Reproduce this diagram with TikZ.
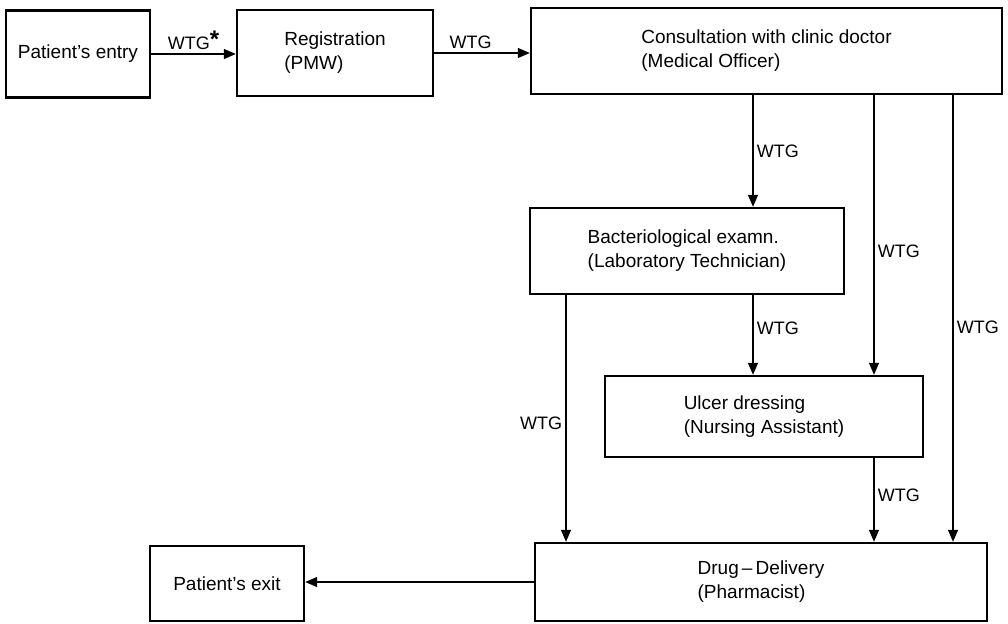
\documentclass[tikz,border=0pt]{standalone}
\usepackage{fontspec}
\setmainfont{Liberation Sans}
\usetikzlibrary{positioning}
\usetikzlibrary{arrows.meta}

\begin{document}
\begin{tikzpicture}[x=1pt,y=-1pt
                   ,font=\fontsize{18}{23}\selectfont
                   ,stage/.style={draw,line width=2.4pt,align=left,inner sep=0pt
                                 ,font=\fontsize{19}{24}\selectfont}
                   ,flow/.style={line width=1.3pt,-{Triangle[length=12pt,width=10pt]}}]
  \useasboundingbox (0,0) rectangle (1008,623);
  \node[stage,minimum width=144pt,minimum height=87pt] (entry) at (78,54) {Patient's entry};
  \node[stage,minimum width=196pt,minimum height=86pt] (reg) at (335,53) {Registration\\(PMW)};
  \node[stage,minimum width=471pt,minimum height=86pt] (consult) at (766.5,51)
    {Consultation with clinic doctor\\(Medical Officer)};
  \node[stage,minimum width=314pt,minimum height=86pt] (bact) at (687,251)
    {Bacteriological examn.\\(Laboratory Technician)};
  \node[stage,minimum width=318pt,minimum height=81pt] (ulcer) at (764,416.5)
    {Ulcer dressing\\(Nursing Assistant)};
  \node[stage,minimum width=452pt,minimum height=78pt] (drug) at (761,582)
    {Drug\,--\,Delivery\\(Pharmacist)};
  \node[stage,minimum width=154pt,minimum height=75pt] (exit) at (227,583.5) {Patient's exit};
  \coordinate (colA) at (753,0);
  \coordinate (colB) at (874,0);
  \coordinate (colC) at (953,0);
  \coordinate (colD) at (566,0);
  \path[flow]
    (entry.east) edge node [above] (w1) {WTG\raisebox{2pt}{\fontsize{24}{24}\selectfont\bfseries *}} (entry.east -| reg.west)
    (reg.east) edge node [above,pos=.38] (w2) {WTG} (reg.east -| consult.west)
    (consult.south -| colA) edge node [right] (w3) {WTG} (bact.north -| colA)
    (consult.south -| colB) edge node [right,pos=.56] (w4) {WTG} (ulcer.north -| colB)
    (consult.south -| colC) edge node [right,pos=.52] (w5) {WTG} (drug.north -| colC)
    (bact.south -| colA) edge node [right,pos=.41] (w6) {WTG} (ulcer.north -| colA)
    (bact.south -| colD) edge node [left,pos=.52] (w7) {WTG} (drug.north -| colD)
    (ulcer.south -| colB) edge node [right,pos=.44] (w8) {WTG} (drug.north -| colB)
    (drug.west) edge (drug.west -| exit.east)
    ;
\end{tikzpicture}
\end{document}
